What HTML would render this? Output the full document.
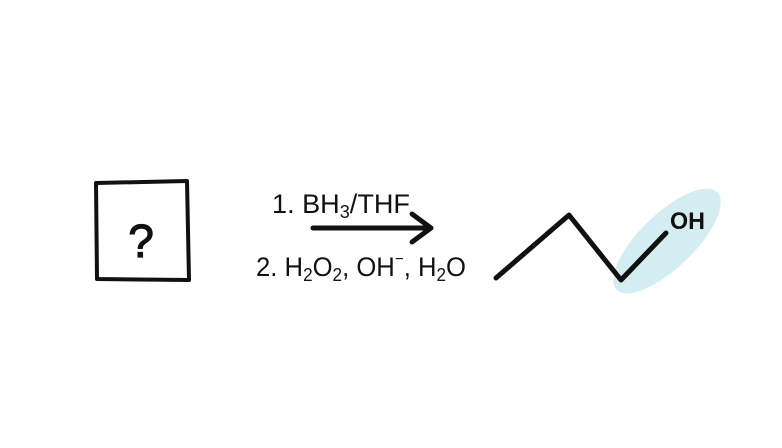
<!DOCTYPE html>
<html><head><meta charset="utf-8"><style>
html,body{margin:0;padding:0;background:#fff;width:782px;height:448px;overflow:hidden}
svg text{font-family:"Liberation Sans",sans-serif;fill:#111}
</style></head><body>
<svg width="782" height="448" viewBox="0 0 782 448">
  <g>
    <path d="M96 183 L187 181 L189 280 L97 279 Z" fill="none" stroke="#111" stroke-width="4" stroke-linejoin="round"/>
    <text x="141" y="257" font-size="46" stroke="#111" stroke-width="1.2" text-anchor="middle">?</text>
  </g>
  <text x="272" y="213" font-size="27" textLength="138" lengthAdjust="spacingAndGlyphs">1. BH<tspan font-size="18" dy="5">3</tspan><tspan dy="-5">/THF</tspan></text>
  <g>
    <line x1="313" y1="228" x2="430" y2="228" stroke="#111" stroke-width="5" stroke-linecap="round"/>
    <polyline points="412,214 431,228 412,242" fill="none" stroke="#111" stroke-width="5" stroke-linecap="round" stroke-linejoin="round"/>
  </g>
  <text x="256" y="276" font-size="27" textLength="210" lengthAdjust="spacingAndGlyphs">2. H<tspan font-size="18" dy="5">2</tspan><tspan dy="-5">O</tspan><tspan font-size="18" dy="5">2</tspan><tspan dy="-5">, OH</tspan><tspan font-size="16" dy="-12">−</tspan><tspan dy="12">, H</tspan><tspan font-size="18" dy="5">2</tspan><tspan dy="-5">O</tspan></text>
  <ellipse cx="667" cy="241" rx="70" ry="27" transform="rotate(-44 667 241)" fill="#d3edf3"/>
  <polyline points="496,278 569,215 621,280 666,233" fill="none" stroke="#111" stroke-width="5" stroke-linecap="round" stroke-linejoin="round"/>
  <text x="670" y="229" font-size="24" font-weight="bold" textLength="35" lengthAdjust="spacingAndGlyphs">OH</text>
</svg>
</body></html>
